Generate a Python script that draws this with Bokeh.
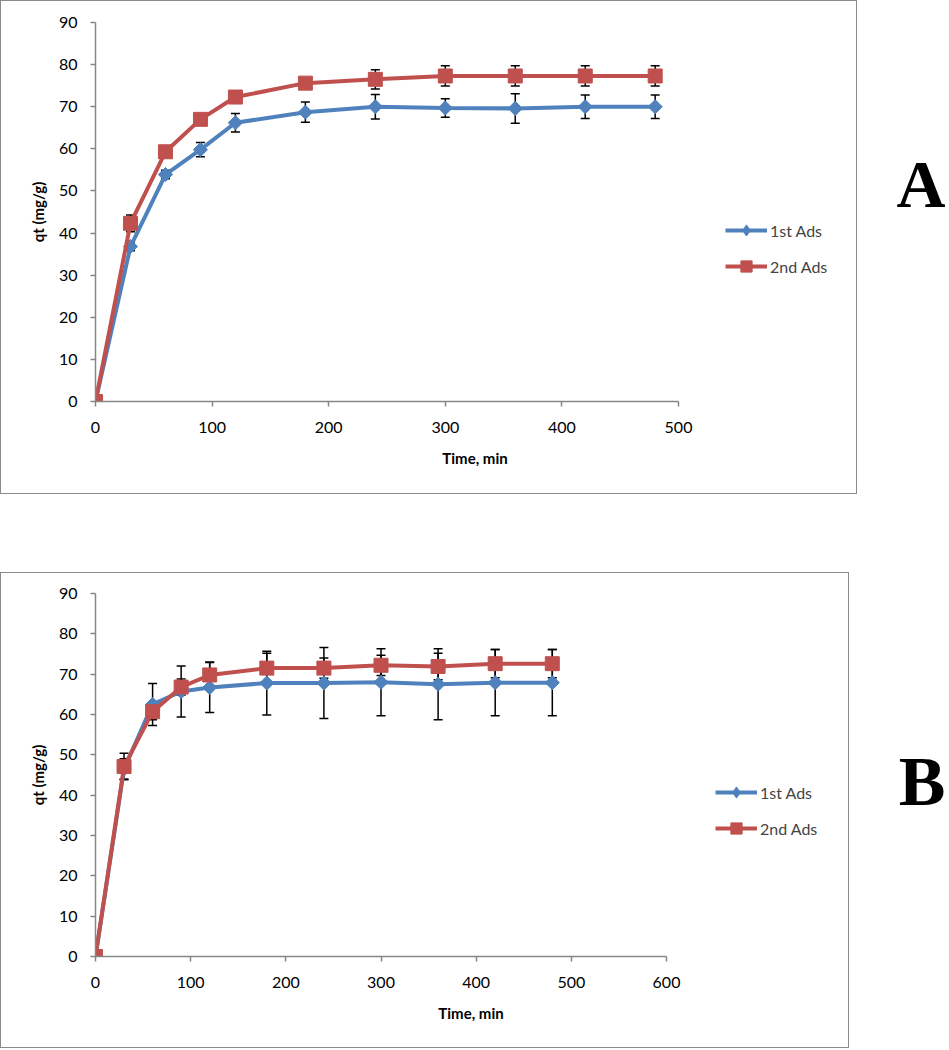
import numpy as np
from bokeh.plotting import figure
from bokeh.models import (Range1d, ColumnDataSource, Whisker, Legend, LegendItem,
                          Label, Spacer)
from bokeh.layouts import column, row
from bokeh.embed import file_html
from bokeh.resources import INLINE

# ---------------- data ----------------
time_min = [0, 30, 60, 90, 120, 180, 240, 300, 360, 420, 480]

a_first = [0, 36.8, 53.9, 59.8, 66.2, 68.7, 70.0, 69.7, 69.6, 70.0, 70.0]
a_first_err = [0, 1.0, 1.0, 1.7, 2.2, 2.4, 2.9, 2.2, 3.5, 2.8, 2.8]
a_second = [0, 42.3, 59.3, 67.0, 72.3, 75.6, 76.5, 77.3, 77.3, 77.3, 77.3]
a_second_err = [0, 2.0, 1.0, 1.0, 1.0, 1.0, 2.3, 2.4, 2.4, 2.4, 2.4]

b_first = [0, 46.5, 62.5, 65.7, 66.7, 67.8, 67.8, 68.0, 67.5, 67.9, 67.9]
b_first_err = [0, 2.5, 5.2, 6.3, 6.2, 7.9, 8.8, 8.3, 8.8, 8.2, 8.2]
b_second = [0, 47.1, 60.7, 66.8, 69.8, 71.5, 71.5, 72.2, 71.9, 72.6, 72.6]
b_second_err = [0, 3.3, 2.0, 2.0, 3.2, 3.7, 2.5, 2.5, 3.3, 3.5, 3.5]

series_names = ["1st Ads", "2nd Ads"]
y_ticks = [0, 10, 20, 30, 40, 50, 60, 70, 80, 90]
x_ticks_a = [0, 100, 200, 300, 400, 500]
x_ticks_b = [0, 100, 200, 300, 400, 500, 600]
x_title = "Time, min"
y_title = "qt (mg/g)"

BLUE = "#4F81BD"
RED = "#C0504D"
AXIS = "#868686"
FONT = "Lato"


def make_panel(first, first_err, second, second_err, x_ticks, width, height,
               left, axis_w, top, bottom, legend_loc):
    right_border = 4
    frame_w = width - left - right_border
    # the frame continues past the last tick so the legend sits inside it;
    # the axis line itself is bounded to the tick span
    x_end = x_ticks[0] + frame_w * (x_ticks[-1] - x_ticks[0]) / axis_w
    p = figure(width=width, height=height, output_backend="svg", toolbar_location=None,
               x_range=Range1d(x_ticks[0], x_end),
               y_range=Range1d(y_ticks[0], y_ticks[-1]),
               min_border_left=left, min_border_right=right_border,
               min_border_top=top, min_border_bottom=height - bottom,
               styles={"border": "1.5px solid #8a8a8a"})
    p.xgrid.visible = False
    p.ygrid.visible = False
    p.outline_line_color = None
    p.background_fill_color = "white"
    p.border_fill_color = "white"

    p.xaxis.ticker = x_ticks
    p.yaxis.ticker = y_ticks
    p.xaxis.bounds = (x_ticks[0], x_ticks[-1])
    for ax in (p.xaxis[0], p.yaxis[0]):
        ax.axis_line_color = AXIS
        ax.axis_line_width = 1.5
        ax.major_tick_line_color = AXIS
        ax.major_tick_line_width = 1.5
        ax.major_tick_in = 0
        ax.major_tick_out = 5
        ax.minor_tick_line_color = None
        ax.major_label_text_font = FONT
        ax.major_label_text_font_size = "16px"
        ax.major_label_text_color = "black"
        ax.axis_label_text_font = FONT
        ax.axis_label_text_font_style = "bold"
        ax.axis_label_text_font_size = "15px"
        ax.axis_label_text_color = "black"
    p.xaxis.axis_label = x_title
    p.yaxis.axis_label = y_title
    p.xaxis.major_label_standoff = 15
    p.xaxis.axis_label_standoff = 13
    p.yaxis.major_label_standoff = 13
    p.yaxis.axis_label_standoff = 9

    renderers = []
    for vals, errs, color, is_diamond in (
            (first, first_err, BLUE, True),
            (second, second_err, RED, False)):
        v = np.array(vals, dtype=float)
        e = np.array(errs, dtype=float)
        src = ColumnDataSource(dict(x=time_min, y=v, upper=v + e, lower=v - e))
        w = Whisker(base="x", upper="upper", lower="lower", source=src,
                    line_color="black", line_width=1.5, level="underlay")
        for head in (w.upper_head, w.lower_head):
            head.size = 9
            head.line_width = 1.5
            head.line_color = "black"
        p.add_layout(w)
        ln = p.line("x", "y", source=src, line_color=color, line_width=4)
        if is_diamond:
            # small diamond (also used as the legend symbol), covered by the
            # rotated-square marker that gives the Excel-style diamond
            key = p.scatter("x", "y", source=src, marker="diamond", size=12,
                            fill_color=color, line_color=color)
            p.scatter("x", "y", source=src, marker="square", size=10, angle=np.pi / 4,
                      fill_color=color, line_color=color, line_width=1)
        else:
            key = p.scatter("x", "y", source=src, marker="square", size=14,
                            fill_color=color, line_color=color, line_width=1)
        renderers.append((ln, key))

    legend = Legend(items=[LegendItem(label=series_names[i], renderers=list(renderers[i]))
                           for i in range(2)],
                    location=legend_loc, padding=0, margin=0, spacing=8,
                    glyph_width=42, glyph_height=28, label_height=28, label_standoff=3,
                    label_text_font=FONT, label_text_font_size="16px",
                    border_line_alpha=0, background_fill_alpha=0)
    p.add_layout(legend)
    return p


def make_letter(letter, width, height, right, baseline_from_top, size):
    f = figure(width=width, height=height, output_backend="svg", toolbar_location=None,
               x_range=Range1d(0, width), y_range=Range1d(0, height),
               x_axis_type=None, y_axis_type=None, min_border=0)
    f.grid.visible = False
    f.outline_line_color = None
    f.add_layout(Label(x=right, y=height - baseline_from_top, text=letter,
                       text_align="right", text_baseline="alphabetic",
                       text_font="Liberation Serif", text_font_style="bold",
                       text_font_size=size, text_color="black"))
    return f


pA = make_panel(a_first, a_first_err, a_second, a_second_err, x_ticks_a,
                width=857, height=494, left=94, axis_w=583, top=21, bottom=400,
                legend_loc=(630, 121))
pB = make_panel(b_first, b_first_err, b_second, b_second_err, x_ticks_b,
                width=849, height=476, left=94, axis_w=571, top=20, bottom=383,
                legend_loc=(620, 114))

letA = make_letter("A", 88, 494, 88, 212, "68px")
letB = make_letter("B", 96, 476, 96, 248, "70px")

layout = column(row(pA, letA), Spacer(height=78), row(pB, letB))
open("out.html", "w").write(file_html(layout, INLINE))
